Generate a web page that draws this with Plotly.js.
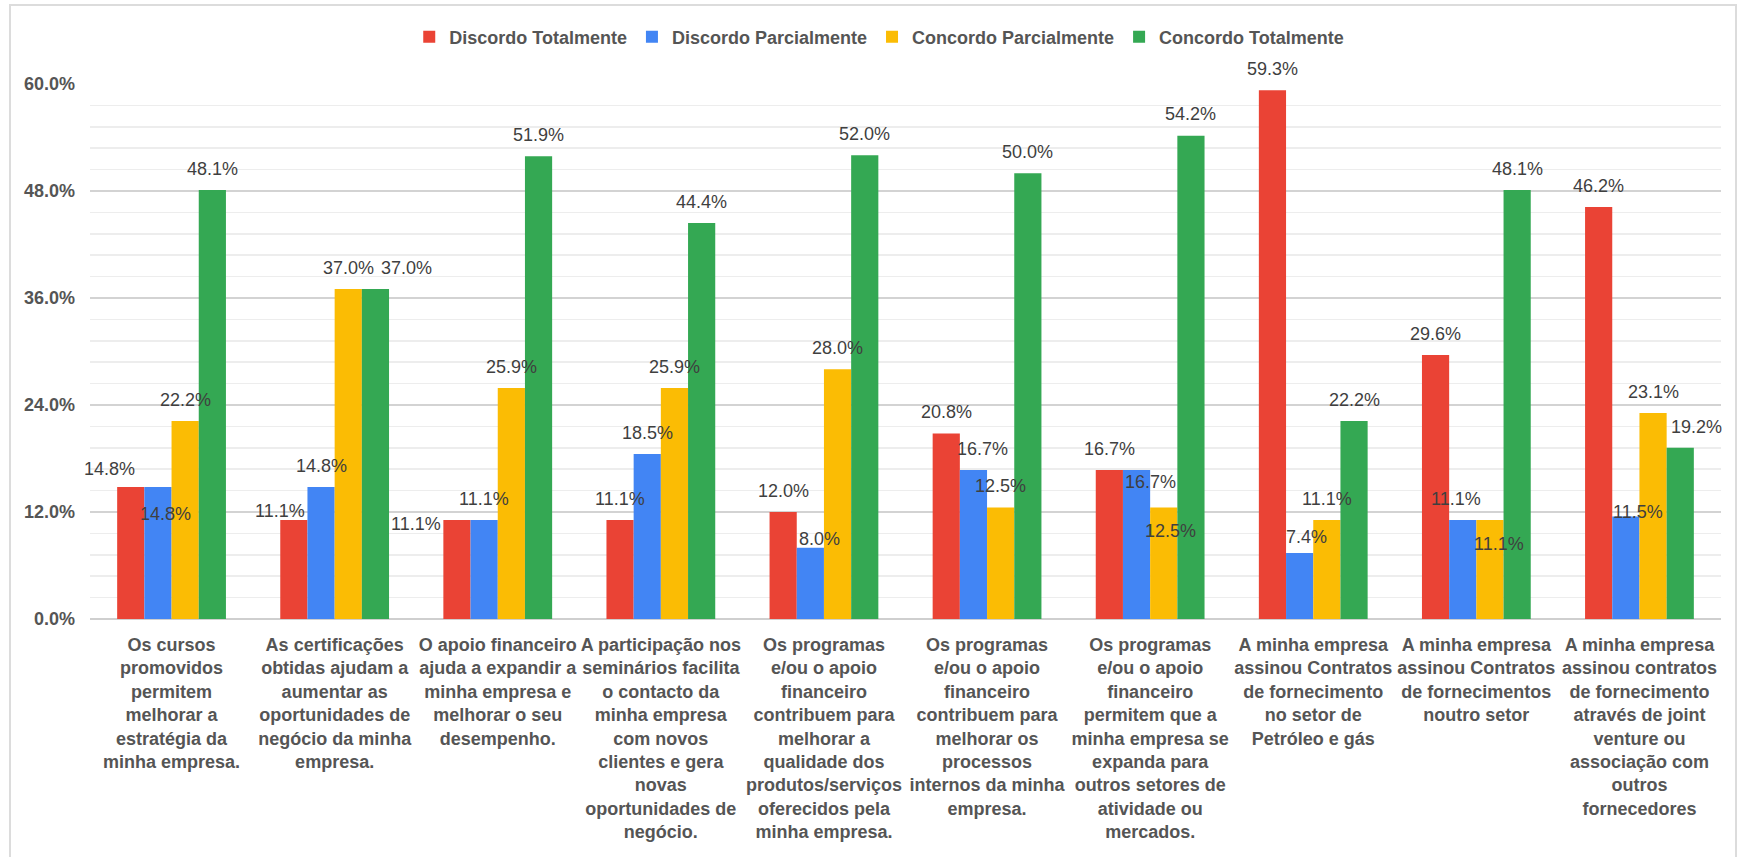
<!DOCTYPE html>
<html>
<head>
<meta charset="utf-8">
<script src="https://cdn.plot.ly/plotly-3.0.1.min.js"></script>
<style>
  html, body { margin: 0; padding: 0; background: #ffffff; overflow: hidden; }
  #wrap { position: relative; width: 1748px; height: 857px; }
  #chart { position: absolute; left: 0; top: 0; width: 1748px; height: 857px; }
  #frame { position: absolute; left: 9px; top: 4px; width: 1728px; height: 900px;
           border: 2px solid #dcdcdc; pointer-events: none; box-sizing: border-box; }
</style>
</head>
<body>
<div id="wrap">
  <div id="chart"></div>
  <div id="frame"></div>
</div>
<script>
// Survey statements (x-axis categories, wrapped the way they are shown)
const categories = [
  "Os cursos<br>promovidos<br>permitem<br>melhorar a<br>estratégia da<br>minha empresa.",
  "As certificações<br>obtidas ajudam a<br>aumentar as<br>oportunidades de<br>negócio da minha<br>empresa.",
  "O apoio financeiro<br>ajuda a expandir a<br>minha empresa e<br>melhorar o seu<br>desempenho.",
  "A participação nos<br>seminários facilita<br>o contacto da<br>minha empresa<br>com novos<br>clientes e gera<br>novas<br>oportunidades de<br>negócio.",
  "Os programas<br>e/ou o apoio<br>financeiro<br>contribuem para<br>melhorar a<br>qualidade dos<br>produtos/serviços<br>oferecidos pela<br>minha empresa.",
  "Os programas<br>e/ou o apoio<br>financeiro<br>contribuem para<br>melhorar os<br>processos<br>internos da minha<br>empresa.",
  "Os programas<br>e/ou o apoio<br>financeiro<br>permitem que a<br>minha empresa se<br>expanda para<br>outros setores de<br>atividade ou<br>mercados.",
  "A minha empresa<br>assinou Contratos<br>de fornecimento<br>no setor de<br>Petróleo e gás",
  "A minha empresa<br>assinou Contratos<br>de fornecimentos<br>noutro setor",
  "A minha empresa<br>assinou contratos<br>de fornecimento<br>através de joint<br>venture ou<br>associação com<br>outros<br>fornecedores"
];

// Answer shares, in percent
const discordoTotalmente   = [14.8, 11.1, 11.1, 11.1, 12.0, 20.8, 16.7, 59.3, 29.6, 46.2];
const discordoParcialmente = [14.8, 14.8, 11.1, 18.5,  8.0, 16.7, 16.7,  7.4, 11.1, 11.5];
const concordoParcialmente = [22.2, 37.0, 25.9, 25.9, 28.0, 12.5, 12.5, 11.1, 11.1, 23.1];
const concordoTotalmente   = [48.1, 37.0, 51.9, 44.4, 52.0, 50.0, 54.2, 22.2, 48.1, 19.2];

const seriesNames = ["Discordo Totalmente", "Discordo Parcialmente", "Concordo Parcialmente", "Concordo Totalmente"];
const seriesValues = [discordoTotalmente, discordoParcialmente, concordoParcialmente, concordoTotalmente];

// Y-axis ticks
const yTickValues = [0, 12, 24, 36, 48, 60];
const yTickLabels = ["0.0%", "12.0%", "24.0%", "36.0%", "48.0%", "60.0%"];

// Styling
const seriesColors = ["#EA4335", "#4285F4", "#FBBC04", "#34A853"];
const FONT = "'Liberation Sans', Arial, Helvetica, sans-serif";
const BARGAP = 0.333;
const barW = (1 - BARGAP) / 4;
const Y_MAX = 60;
const MARGIN = { l: 90, r: 27, t: 84, b: 238, pad: 0 };
const PLOT_H = 857 - MARGIN.t - MARGIN.b;
const pxPerPoint = PLOT_H / Y_MAX;

// Label placement tweaks where labels would collide: [shift in bar widths, shift in percentage points]
const labelNudge = {
  "0-0": [-0.77, -0.35], "1-0": [0.26, -5.4],
  "0-1": [-0.52, -1.4],  "3-1": [1.16, 0],
  "0-2": [-1.49, -2.8],
  "1-4": [0.34, -1.4],
  "1-5": [0.32, 0],
  "1-6": [0.5, -3.75],   "2-6": [0.25, -5.0],
  "1-7": [0.25, -0.6],
  "1-8": [-0.24, 0],     "2-8": [0.33, -5.05],
  "1-9": [0.45, -1.93],  "3-9": [0.6, -0.1]
};

const xIdx = categories.map((_, i) => i);

const traces = seriesValues.map((vals, k) => ({
  type: "bar",
  name: seriesNames[k],
  x: xIdx,
  y: vals,
  marker: { color: seriesColors[k], line: { width: 0 } },
  hoverinfo: "skip"
}));

// Value labels, anchored at each bar's top
const annotations = [];
seriesValues.forEach((vals, k) => {
  vals.forEach((v, i) => {
    const n = labelNudge[k + "-" + i] || [0, 0];
    annotations.push({
      x: i + (k - 1.5 + n[0]) * barW,
      y: v,
      yshift: (2.4 + n[1]) * pxPerPoint,
      xref: "x", yref: "y",
      text: v.toFixed(1) + "%",
      showarrow: false,
      xanchor: "center", yanchor: "middle",
      font: { family: FONT, size: 18, color: "#3f3f3f" }
    });
  });
});

const layout = {
  width: 1748, height: 857,
  autosize: false,
  margin: MARGIN,
  paper_bgcolor: "#ffffff",
  plot_bgcolor: "#ffffff",
  barmode: "group",
  bargap: BARGAP,
  bargroupgap: 0,
  hovermode: false,
  showlegend: true,
  legend: {
    orientation: "h",
    xref: "container", yref: "container",
    x: 0.503, xanchor: "center",
    y: 1 - 37 / 857, yanchor: "middle",
    itemwidth: 30,
    font: { family: FONT, size: 18, color: "#555555", weight: "bold" },
    itemclick: false, itemdoubleclick: false
  },
  xaxis: {
    type: "linear",
    range: [-0.5, categories.length - 0.5],
    tickmode: "array",
    tickvals: xIdx,
    ticktext: categories,
    showgrid: false,
    zeroline: false,
    showline: false,
    ticks: "",
    ticklabelstandoff: 13,
    tickfont: { family: FONT, size: 18, color: "#555555", weight: "bold" },
    fixedrange: true
  },
  yaxis: {
    range: [0, Y_MAX],
    tickmode: "array",
    tickvals: yTickValues,
    ticktext: yTickLabels,
    showgrid: true,
    gridcolor: "#d3d3d3",
    gridwidth: 2,
    zeroline: true,
    zerolinecolor: "#cfcfcf",
    zerolinewidth: 2,
    showline: false,
    ticks: "",
    ticklabelstandoff: 14,
    tickfont: { family: FONT, size: 18, color: "#555555", weight: "bold" },
    minor: { dtick: 2.4, tick0: 0, showgrid: true, gridcolor: "#ededed", gridwidth: 1.5, ticks: "" },
    fixedrange: true
  },
  annotations: annotations
};

Plotly.newPlot("chart", traces, layout, { displayModeBar: false, staticPlot: true });
</script>
</body>
</html>
